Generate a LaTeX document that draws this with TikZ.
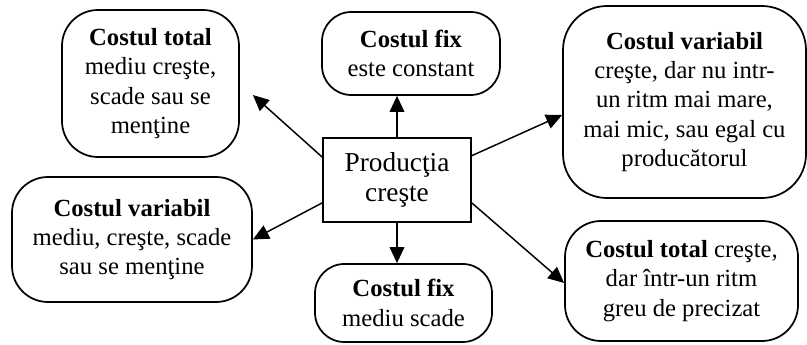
\documentclass[tikz,border=0pt]{standalone}
\usepackage{fontspec}
\setmainfont{Liberation Serif}
\usetikzlibrary{arrows.meta}

\tikzset{
  costbox/.style={draw=black, line width=1.3pt, rounded corners=27pt, align=center, inner sep=0pt,
    font=\fontsize{18.5}{22}\selectfont},
  prodbox/.style={draw=black, line width=1.1pt, align=center, inner sep=0pt,
    font=\fontsize{20.5}{23}\selectfont},
  flow/.style={line width=1.1pt, -{Triangle[length=12pt,width=11pt]}}
}

\begin{document}
\begin{tikzpicture}[x=0.75pt, y=-0.75pt]

		\useasboundingbox (0,0) rectangle (807,345);

		% Centre
		\node[prodbox, minimum width=111pt, minimum height=63pt] (prod) at (397,180) {Producţia\\creşte};

		% Boxes
		\node[costbox, minimum width=132.75pt, minimum height=110.25pt] (totalmed) at (150.5,83.5)
			{\textbf{Costul total}\\mediu creşte,\\scade sau se\\menţine};
		\node[costbox, rounded corners=22pt, minimum width=133.5pt, minimum height=62.25pt] (fix) at (411,53.5)
			{\textbf{Costul fix}\\este constant};
		\node[costbox, rounded corners=33pt, minimum width=182.25pt, minimum height=144pt] (var) at (684.5,102)
			{\textbf{Costul variabil}\\creşte, dar nu intr-\\un ritm mai mare,\\mai mic, sau egal cu\\producătorul};
		\node[costbox, minimum width=180pt, minimum height=93.75pt] (varmed) at (132,239.5)
			{\textbf{Costul variabil}\\mediu, creşte, scade\\sau se menţine};
		\node[costbox, rounded corners=22pt, minimum width=132.75pt, minimum height=58.5pt] (fixmed) at (403.5,303)
			{\textbf{Costul fix}\\mediu scade};
		\node[costbox, minimum width=174.75pt, minimum height=90pt] (total) at (681.5,281)
			{\textbf{Costul total} creşte,\\dar într-un ritm\\greu de precizat};

		% Arrows
		\draw[flow] (prod.163) -- ([shift={(13,11.5)}]totalmed.east);
		\draw[flow] (prod.north) -- (prod.north |- fix.south);
		\draw[flow] (prod.18) -- ([shift={(0,13)}]var.west);
		\draw[flow] (prod.197) -- (varmed.east);
		\draw[flow] (prod.south) -- (prod.south |- fixmed.north);
		\draw[flow] (prod.343) -- ([shift={(0,2)}]total.west);

\end{tikzpicture}
\end{document}
